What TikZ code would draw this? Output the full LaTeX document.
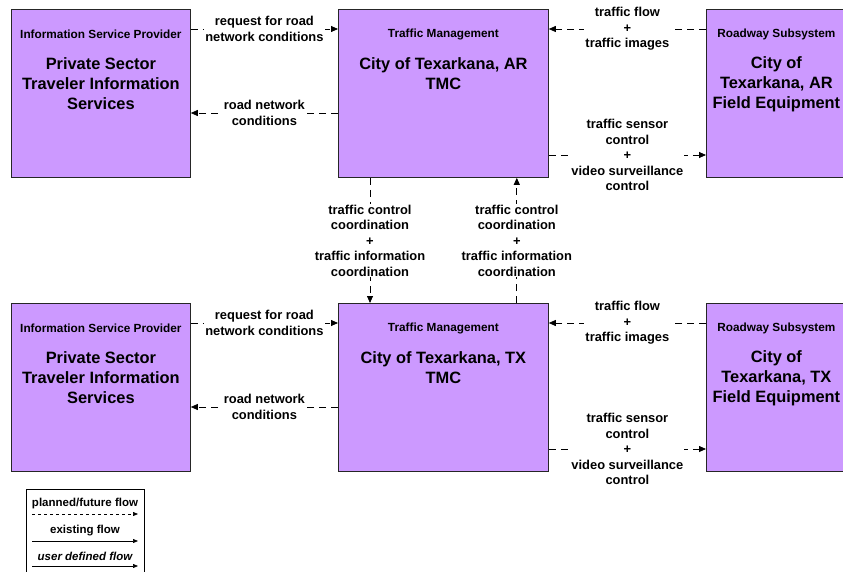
\documentclass[tikz,border=0pt]{standalone}
\usepackage{fontspec}
\setmainfont{Liberation Sans}
\usetikzlibrary{arrows.meta,calc}
\definecolor{boxfill}{HTML}{CC99FF}
\begin{document}
\begin{tikzpicture}[x=1pt,y=-1pt,
  sysbox/.style={draw=black!85, fill=boxfill, line width=0.8pt, minimum height=168pt, inner sep=0pt, anchor=north west},
  titletext/.style={font=\bfseries\fontsize{11.8}{14}\selectfont, inner sep=0pt},
  nametext/.style={font=\bfseries\fontsize{16.4}{20}\selectfont, align=center, inner sep=0pt},
  lbl/.style={font=\bfseries\fontsize{12.9}{15.5}\selectfont, align=center, fill=white, inner sep=1pt},
  plan/.style={draw=black, line width=0.8pt, dash pattern=on 7pt off 5pt, -{Triangle[length=7pt,width=6pt]}},
  legplan/.style={draw=black, line width=0.7pt, dash pattern=on 3pt off 3pt, -{Triangle[length=5pt,width=4pt]}},
  legsolid/.style={draw=black, line width=0.7pt, -{Triangle[length=5pt,width=4pt]}},
  legtext/.style={font=\bfseries\fontsize{11.5}{14}\selectfont, inner sep=0pt}
]
\useasboundingbox (0,0) rectangle (843,572);

% top row
\node[sysbox, minimum width=179pt] (isp1) at (11,9) {};
\node[sysbox, minimum width=210pt] (tm1) at (338,9) {};
\node[sysbox, minimum width=140pt] (rs1) at (706,9) {};
% bottom row
\node[sysbox, minimum width=179pt] (isp2) at (11,303) {};
\node[sysbox, minimum width=210pt] (tm2) at (338,303) {};
\node[sysbox, minimum width=140pt] (rs2) at (706,303) {};

% box texts
\node[titletext] (isp1t) at ([yshift=-25pt]isp1.north) {Information Service Provider};
\node[nametext] (isp1n) at ([yshift=-75pt]isp1.north) {Private Sector\\Traveler Information\\Services};
\node[titletext] (tm1t) at ([yshift=-25pt]tm1.north) {Traffic Management};
\node[nametext] (tm1n) at ([yshift=-65pt]tm1.north) {City of Texarkana, AR\\TMC};
\node[titletext] (rs1t) at ([yshift=-25pt]rs1.north) {Roadway Subsystem};
\node[nametext] (rs1n) at ([yshift=-75pt]rs1.north) {City of\\Texarkana, AR\\Field Equipment};

\node[titletext] (isp2t) at ([yshift=-25pt]isp2.north) {Information Service Provider};
\node[nametext] (isp2n) at ([yshift=-75pt]isp2.north) {Private Sector\\Traveler Information\\Services};
\node[titletext] (tm2t) at ([yshift=-25pt]tm2.north) {Traffic Management};
\node[nametext] (tm2n) at ([yshift=-65pt]tm2.north) {City of Texarkana, TX\\TMC};
\node[titletext] (rs2t) at ([yshift=-25pt]rs2.north) {Roadway Subsystem};
\node[nametext] (rs2n) at ([yshift=-75pt]rs2.north) {City of\\Texarkana, TX\\Field Equipment};

% top row flows
\draw[plan] ([yshift=-20pt]isp1.north east) -- node[lbl] (f1) {request for road\\network conditions} ([yshift=-20pt]tm1.north west);
\draw[plan] ([yshift=-104pt]tm1.north west) -- node[lbl] (f2) {road network\\conditions} ([yshift=-104pt]isp1.north east);
\draw[plan] ([yshift=-20pt]rs1.north west) -- node[lbl] (f3) {traffic flow\\+\\traffic images} ([yshift=-20pt]tm1.north east);
\draw[plan] ([yshift=-146pt]tm1.north east) -- node[lbl] (f4) {traffic sensor\\control\\+\\video surveillance\\control} ([yshift=-146pt]rs1.north west);

% bottom row flows
\draw[plan] ([yshift=-20pt]isp2.north east) -- node[lbl] (f5) {request for road\\network conditions} ([yshift=-20pt]tm2.north west);
\draw[plan] ([yshift=-104pt]tm2.north west) -- node[lbl] (f6) {road network\\conditions} ([yshift=-104pt]isp2.north east);
\draw[plan] ([yshift=-20pt]rs2.north west) -- node[lbl] (f7) {traffic flow\\+\\traffic images} ([yshift=-20pt]tm2.north east);
\draw[plan] ([yshift=-146pt]tm2.north east) -- node[lbl] (f8) {traffic sensor\\control\\+\\video surveillance\\control} ([yshift=-146pt]rs2.north west);

% vertical flows
\draw[plan] ([xshift=32pt]tm1.south west) -- node[lbl] (f9) {traffic control\\coordination\\+\\traffic information\\coordination} ([xshift=32pt]tm2.north west);
\draw[plan] ([xshift=-32pt]tm2.north east) -- node[lbl] (f10) {traffic control\\coordination\\+\\traffic information\\coordination} ([xshift=-32pt]tm1.south east);

% legend
\node[draw=black, line width=0.8pt, fill=white, minimum width=118pt, minimum height=95pt, inner sep=0pt, anchor=north west] (leg) at (26,489) {};
\node[legtext] (lt1) at (85,504) {planned/future flow};
\coordinate (l1a) at (32,514); \coordinate (l1b) at (138,514);
\draw[legplan] (l1a) -- (l1b);
\node[legtext] (lt2) at (85,531) {existing flow};
\coordinate (l2a) at (32,541); \coordinate (l2b) at (138,541);
\draw[legsolid] (l2a) -- (l2b);
\node[legtext, font=\bfseries\itshape\fontsize{11.5}{14}\selectfont] (lt3) at (85,556) {user defined flow};
\coordinate (l3a) at (32,566); \coordinate (l3b) at (138,566);
\draw[legsolid] (l3a) -- (l3b);
\end{tikzpicture}
\end{document}
